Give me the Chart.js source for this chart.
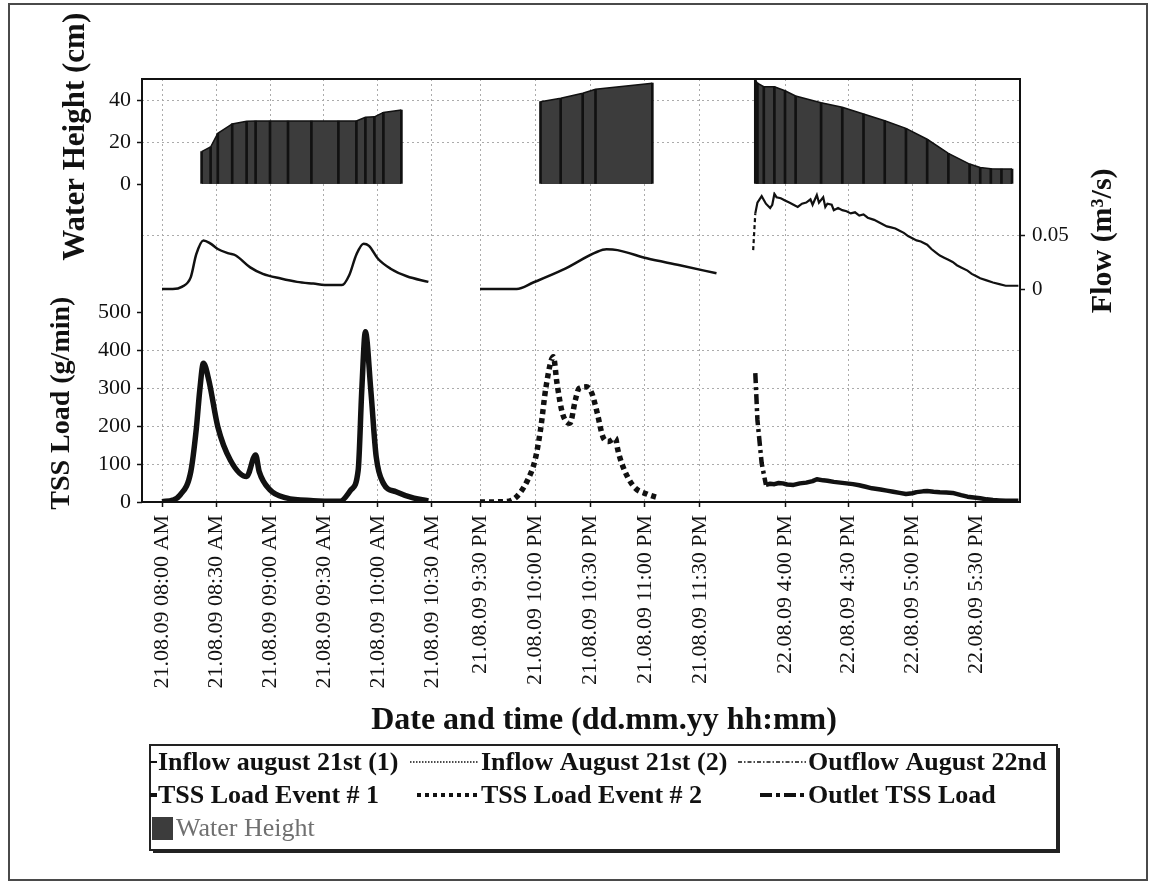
<!DOCTYPE html>
<html lang="en">
<head>
<meta charset="utf-8">
<title>Water height, flow and TSS load — 21/22.08.09</title>
<script src="https://cdn.jsdelivr.net/npm/chart.js@4.4.1/dist/chart.umd.min.js"></script>
<style>
  html, body { margin: 0; padding: 0; background: #fff; }
  canvas { display: block; }
</style>
</head>
<body>
<canvas id="chart" width="1151" height="886"></canvas>
<script>
// ---- Data (clock times hh:mm, 24 h) ----

// Event #1, morning of 21.08.09
var p1FlowTimes = ['08:00','08:06','08:11','08:16','08:19','08:23','08:27','08:31','08:37','08:41','08:49','08:56','09:06','09:15','09:24','09:33','09:40','09:44','09:48','09:52','09:55','10:00','10:07','10:16','10:28'];
var p1Flow      = [0, 0, 0.002, 0.011, 0.032, 0.045, 0.042, 0.037, 0.033, 0.031, 0.020, 0.014, 0.0097, 0.0066, 0.005, 0.0036, 0.0036, 0.0127, 0.032, 0.042, 0.040, 0.028, 0.0188, 0.0118, 0.0066];
var p1TssTimes  = ['08:00','08:06','08:10','08:16','08:19','08:21','08:23','08:26','08:31','08:38','08:47','08:52','08:54','09:00','09:09','09:24','09:39','09:45','09:49','09:51','09:53','09:56','09:59','10:03','10:10','10:20','10:28'];
var p1Tss       = [1, 5, 18, 80, 190, 295, 365, 321, 198, 110, 67, 124, 80, 32, 11, 3.5, 2, 32, 84, 295, 448, 295, 119, 49, 27, 10, 3];
var p1LevelTimes = ['08:22','08:27','08:31','08:39','08:47','08:52','09:00','09:10','09:23','09:38','09:48','09:53','09:58','10:03','10:13'];
var p1Level      = [15.4, 17.6, 24.1, 28.6, 29.9, 30, 30, 30, 30, 30, 30, 31.8, 32, 34.1, 35.2];

// Event #2, evening of 21.08.09
var p2FlowTimes = ['21:30','21:50','21:59','22:15','22:34','22:39','22:45','23:01','23:19','23:39'];
var p2Flow      = [0, 0, 0.006, 0.0176, 0.0345, 0.0367, 0.036, 0.0284, 0.022, 0.0145];
var p2TssTimes  = ['21:30','21:44','21:50','21:56','22:00','22:03','22:06','22:10','22:12','22:15','22:19','22:22','22:24','22:28','22:31','22:34','22:37','22:40','22:44','22:45','22:48','22:54','23:01','23:08'];
var p2Tss       = [0, 1, 14, 58, 110, 190, 303, 382, 312, 233, 207, 268, 299, 303, 286, 233, 172, 159, 168, 141, 93, 40, 21, 10];
var p2LevelTimes = ['22:03','22:14','22:26','22:33','23:04'];
var p2Level      = [39.2, 40.8, 43.2, 45.1, 48];

// Outlet, afternoon of 22.08.09
var p3FlowTimes = ['15:45','15:46','15:47','15:49','15:51','15:53','15:54','15:55','15:56','15:58','16:00','16:02','16:04','16:06','16:08','16:10','16:12','16:13','16:15','16:16','16:18','16:19','16:20','16:22','16:23','16:25','16:27','16:29','16:31','16:33','16:35','16:37','16:39','16:42','16:44','16:46','16:48','16:50','16:52','16:54','16:56','16:58','17:00','17:02','17:04','17:07','17:09','17:11','17:13','17:15','17:17','17:19','17:21','17:23','17:26','17:28','17:30','17:32','17:35','17:38','17:41','17:44','17:47','17:50'];
var p3Flow      = [0.036, 0.070, 0.080, 0.086, 0.079, 0.075, 0.078, 0.088, 0.085, 0.084, 0.082, 0.080, 0.078, 0.076, 0.079, 0.080, 0.083, 0.078, 0.087, 0.080, 0.085, 0.076, 0.079, 0.078, 0.073, 0.075, 0.073, 0.072, 0.070, 0.071, 0.068, 0.069, 0.066, 0.064, 0.062, 0.060, 0.058, 0.057, 0.056, 0.054, 0.052, 0.049, 0.047, 0.045, 0.044, 0.041, 0.037, 0.034, 0.031, 0.029, 0.027, 0.025, 0.022, 0.020, 0.017, 0.014, 0.012, 0.010, 0.008, 0.006, 0.0045, 0.003, 0.003, 0.003];
var p3TssTimes  = ['15:46','15:47','15:49','15:51','15:53','15:55','15:57','15:59','16:01','16:04','16:07','16:10','16:13','16:15','16:18','16:20','16:23','16:26','16:29','16:32','16:35','16:38','16:41','16:45','16:48','16:51','16:54','16:57','17:00','17:02','17:05','17:07','17:10','17:13','17:16','17:19','17:23','17:26','17:29','17:32','17:35','17:38','17:41','17:44','17:50'];
var p3Tss       = [339, 216, 102, 45, 48, 47, 50, 49, 46, 45, 49, 51, 55, 60, 57, 56, 53, 51, 49, 47, 44, 40, 36, 33, 30, 27, 24, 21, 23, 26, 28, 29, 27, 25.5, 25, 24, 18, 14, 12, 10, 7, 5, 4, 3, 3];
var p3LevelTimes = ['15:46','15:47','15:50','15:55','16:00','16:05','16:17','16:27','16:37','16:47','16:57','17:07','17:17','17:27','17:32','17:37','17:42','17:47'];
var p3Level      = [49.5, 48, 46.3, 46.3, 44.4, 41.9, 38.7, 36.5, 33.3, 30.1, 26.5, 21.3, 14.6, 9.5, 7.9, 7.3, 7.1, 7.1];

var seriesNames = ['Inflow august 21st (1)', 'Inflow August 21st (2)', 'Outflow August 22nd',
                   'TSS Load Event # 1', 'TSS Load Event # 2', 'Outlet TSS Load', 'Water Height'];

// Axis ticks and labels
var p1TickTimes  = ['08:00','08:30','09:00','09:30','10:00','10:30'];
var p1TickLabels = ['21.08.09 08:00 AM','21.08.09 08:30 AM','21.08.09 09:00 AM','21.08.09 09:30 AM','21.08.09 10:00 AM','21.08.09 10:30 AM'];
var p2TickTimes  = ['21:30','22:00','22:30','23:00','23:30'];
var p2TickLabels = ['21.08.09 9:30 PM','21.08.09 10:00 PM','21.08.09 10:30 PM','21.08.09 11:00 PM','21.08.09 11:30 PM'];
var p3TickTimes  = ['16:00','16:30','17:00','17:30'];
var p3TickLabels = ['22.08.09 4:00 PM','22.08.09 4:30 PM','22.08.09 5:00 PM','22.08.09 5:30 PM'];
var levelTicks = [0, 20, 40];
var flowTicks  = [0, 0.05];
var tssTicks   = [0, 100, 200, 300, 400, 500];

// ---- Chart ----
(function () {
  'use strict';

  var FONT = "'Liberation Serif', 'Times New Roman', serif";
  var INK = '#111';
  var GRID = '#ababab';

  Chart.defaults.font.family = FONT;
  Chart.defaults.color = INK;

  function toMin(t) {
    var p = t.split(':');
    return +p[0] * 60 + +p[1] + (p[2] ? +p[2] / 60 : 0);
  }
  function pts(times, values) {
    return times.map(function (t, i) { return { x: toMin(t), y: values[i] }; });
  }
  function fixedTicks(list) {
    return function (s) { s.ticks = list.map(function (v) { return { value: v }; }); };
  }
  function fixWidth(w) { return function (s) { s.width = w; }; }
  function fixHeight(h) { return function (s) { s.height = h; }; }

  // broken time axis: three panels side by side (weights = panel widths in px)
  function timeScale(range, tickTimes, tickLabels, panelWidth, order) {
    return {
      type: 'linear', position: 'bottom', stack: 'time', stackWeight: panelWidth, weight: order,
      min: toMin(range[0]), max: toMin(range[1]), offset: false,
      afterBuildTicks: fixedTicks(tickTimes.map(toMin)),
      afterFit: fixHeight(195),
      ticks: {
        autoSkip: false, minRotation: 90, maxRotation: 90, padding: 8, color: INK,
        font: { size: 22 },
        callback: function (v, i) { return tickLabels[i]; }
      },
      grid: { offset: false, color: GRID, tickLength: 5, tickColor: INK, tickWidth: 1.5, tickBorderDash: [] },
      border: { display: false, dash: [2, 3] }
    };
  }

  function flowLine(i, xID, times, vals, extra) {
    return Object.assign({
      type: 'line', label: seriesNames[i], data: pts(times, vals), xAxisID: xID, yAxisID: 'yFlow',
      borderColor: INK, borderWidth: 2.5, pointRadius: 0, fill: false,
      cubicInterpolationMode: 'monotone', order: 1
    }, extra || {});
  }
  function tssLine(i, xID, times, vals, extra) {
    return Object.assign({
      type: 'line', label: seriesNames[i], data: pts(times, vals), xAxisID: xID, yAxisID: 'yTss',
      borderColor: INK, borderWidth: 5.5, pointRadius: 0, fill: false,
      cubicInterpolationMode: 'monotone', borderJoinStyle: 'round', order: 1
    }, extra || {});
  }
  function levelArea(xID, times, vals) {
    return {
      type: 'line', label: seriesNames[6], data: pts(times, vals), xAxisID: xID, yAxisID: 'yLevel',
      borderColor: INK, borderWidth: 1.5, backgroundColor: '#3c3c3c', fill: 'origin',
      pointRadius: 0, tension: 0, order: 3
    };
  }
  function levelDrops(xID, times, vals) {
    return {
      type: 'bar', label: seriesNames[6], data: pts(times, vals), xAxisID: xID, yAxisID: 'yLevel',
      backgroundColor: INK, borderWidth: 0, barThickness: 2, grouped: false, order: 2
    };
  }

  var datasets = [
    flowLine(0, 'x1', p1FlowTimes, p1Flow),
    flowLine(1, 'x2', p2FlowTimes, p2Flow),
    flowLine(2, 'x3', p3FlowTimes, p3Flow, {
      cubicInterpolationMode: 'default', tension: 0, borderWidth: 2.2,
      segment: { borderDash: function (c) { return c.p0DataIndex < 1 ? [4, 3] : undefined; } }
    }),
    tssLine(3, 'x1', p1TssTimes, p1Tss),
    tssLine(4, 'x2', p2TssTimes, p2Tss, { borderDash: [5, 4], borderJoinStyle: 'miter' }),
    tssLine(5, 'x3', p3TssTimes, p3Tss, {
      borderWidth: 4.5, cubicInterpolationMode: 'default', tension: 0,
      segment: { borderDash: function (c) { return c.p0DataIndex < 3 ? [10, 4, 3, 4] : undefined; } }
    }),
    levelArea('x1', p1LevelTimes, p1Level),
    levelArea('x2', p2LevelTimes, p2Level),
    levelArea('x3', p3LevelTimes, p3Level),
    levelDrops('x1', p1LevelTimes, p1Level),
    levelDrops('x2', p2LevelTimes, p2Level),
    levelDrops('x3', p3LevelTimes, p3Level)
  ];

  function gridBetween(lo, hi) {
    return function (c) { return c.tick && c.tick.value > lo && c.tick.value < hi ? GRID : 'transparent'; };
  }

  var scales = {
    x1: timeScale(['07:48:53', '10:32:47'], p1TickTimes, p1TickLabels, 295, 1),
    x2: timeScale(['21:06:32', '23:49:06'], p2TickTimes, p2TickLabels, 298, 2),
    x3: timeScale(['15:36:26', '17:50:45'], p3TickTimes, p3TickLabels, 285, 3),
    xPad: { type: 'linear', position: 'bottom', display: false, stack: 'title', stackWeight: 46, weight: 4,
            afterFit: fixHeight(48) },
    xTitle: {
      type: 'linear', position: 'bottom', stack: 'title', stackWeight: 832, weight: 5,
      ticks: { display: false }, grid: { display: false, drawTicks: false }, border: { display: false },
      afterFit: fixHeight(48),
      title: { display: true, text: 'Date and time (dd.mm.yy hh:mm)', color: INK,
               font: { size: 32, weight: 'bold' }, padding: { top: 0, bottom: 5 } }
    },

    // left: water height on top, TSS load at the bottom
    yLevel: {
      type: 'linear', position: 'left', stack: 'left', stackWeight: 115.5, weight: 3,
      min: -5, max: 50,
      afterBuildTicks: fixedTicks(levelTicks),
      afterFit: fixWidth(142),
      ticks: { padding: 6, color: INK, font: { size: 22 } },
      grid: { color: gridBetween(0, 50), tickLength: 5, tickColor: INK, tickWidth: 1.5, tickBorderDash: [] },
      border: { display: false, dash: [2, 3] },
      title: { display: true, text: 'Water Height (cm)', color: INK,
               font: { size: 31, weight: 'bold' }, padding: { top: 57, bottom: 0 } }
    },
    yGap: { type: 'linear', position: 'left', display: false, stack: 'left', stackWeight: 109.9, weight: 2,
            afterFit: fixWidth(142) },
    yTss: {
      type: 'linear', position: 'left', stack: 'left', stackWeight: 197.6, weight: 1,
      min: 0, max: 520,
      afterBuildTicks: fixedTicks(tssTicks),
      afterFit: fixWidth(142),
      ticks: { padding: 6, color: INK, font: { size: 22 } },
      grid: { color: gridBetween(0, 500), tickLength: 5, tickColor: INK, tickWidth: 1.5, tickBorderDash: [] },
      border: { display: false, dash: [2, 3] },
      title: { display: true, text: 'TSS Load (g/min)', color: INK,
               font: { size: 28, weight: 'bold' }, padding: { top: 45, bottom: 0 } }
    },

    // right: flow between the two
    yFlowTop: { type: 'linear', position: 'right', display: false, stack: 'right', stackWeight: 112.8, weight: 1,
                afterFit: fixWidth(131) },
    yFlow: {
      type: 'linear', position: 'right', stack: 'right', stackWeight: 108, weight: 2,
      min: -0.01, max: 0.09,
      afterBuildTicks: fixedTicks(flowTicks),
      afterFit: fixWidth(131),
      ticks: { padding: 7, color: INK, font: { size: 21 } },
      grid: { color: gridBetween(0, 1), tickLength: 5, tickColor: INK, tickWidth: 1.5, tickBorderDash: [] },
      border: { display: false, dash: [2, 3] }
    },
    yFlowBottom: { type: 'linear', position: 'right', display: false, stack: 'right', stackWeight: 202.2, weight: 3,
                   afterFit: fixWidth(131) }
  };

  // plot frame, outer figure frame, right-hand title (reads bottom to top) and the 3-column legend
  var LEGEND = [
    { ds: 0, row: 0, col: 0, from: 150, to: 157, width: 2,   dash: [] },
    { ds: 1, row: 0, col: 1, from: 410, to: 478, width: 1.5, dash: [1.5, 1.5] },
    { ds: 2, row: 0, col: 2, from: 738, to: 806, width: 1.5, dash: [4, 2, 1.5, 2] },
    { ds: 3, row: 1, col: 0, from: 150, to: 157, width: 4,   dash: [] },
    { ds: 4, row: 1, col: 1, from: 417, to: 477, width: 4,   dash: [4, 4] },
    { ds: 5, row: 1, col: 2, from: 760, to: 806, width: 4,   dash: [12, 4, 4, 4] },
    { ds: 6, row: 2, col: 0, box: true }
  ];
  var LEGEND_COL_X = [158, 481, 808];
  var LEGEND_ROW_Y = [762, 795, 828];

  var decor = {
    id: 'decor',
    beforeDraw: function (chart) {
      var ctx = chart.ctx;
      ctx.save();
      ctx.strokeStyle = '#4a4a4a';
      ctx.lineWidth = 2;
      ctx.strokeRect(9, 4, 1138, 876);
      ctx.restore();
    },
    afterDatasetsDraw: function (chart) {
      var a = chart.chartArea, ctx = chart.ctx;
      ctx.save();
      ctx.strokeStyle = INK;
      ctx.lineWidth = 2;
      ctx.strokeRect(a.left, a.top, a.right - a.left, a.bottom - a.top);
      ctx.restore();
    },
    afterDraw: function (chart) {
      var ctx = chart.ctx, s = chart.scales.yFlow;
      ctx.save();
      ctx.translate(s.right - 48, (s.top + s.bottom) / 2 - 5);
      ctx.rotate(-Math.PI / 2);
      ctx.font = 'bold 30px ' + FONT;
      ctx.fillStyle = INK;
      ctx.textAlign = 'center';
      ctx.textBaseline = 'middle';
      ctx.fillText('Flow (m\u00b3/s)', 0, 0);
      ctx.restore();

      // legend box with drop shadow
      ctx.save();
      ctx.fillStyle = '#222';
      ctx.fillRect(153, 748, 907, 105);
      ctx.fillStyle = '#fff';
      ctx.fillRect(150, 745, 907, 105);
      ctx.strokeStyle = '#222';
      ctx.lineWidth = 2;
      ctx.strokeRect(150, 745, 907, 105);
      ctx.textBaseline = 'middle';
      LEGEND.forEach(function (it) {
        var y = LEGEND_ROW_Y[it.row];
        var label = chart.data.datasets[it.ds].label;
        if (it.box) {
          ctx.fillStyle = '#3c3c3c';
          ctx.fillRect(152, y - 11, 21, 23);
          ctx.font = '26px ' + FONT;
          ctx.fillStyle = '#707070';
          ctx.fillText(label, 176, y + 1);
          return;
        }
        ctx.beginPath();
        ctx.setLineDash(it.dash);
        ctx.lineWidth = it.width;
        ctx.strokeStyle = INK;
        ctx.moveTo(it.from, y);
        ctx.lineTo(it.to, y);
        ctx.stroke();
        ctx.setLineDash([]);
        ctx.font = 'bold 26px ' + FONT;
        ctx.fillStyle = INK;
        ctx.fillText(label, LEGEND_COL_X[it.col], y + 1);
      });
      ctx.restore();
    }
  };

  new Chart(document.getElementById('chart'), {
    type: 'line',
    data: { datasets: datasets },
    options: {
      responsive: false,
      animation: false,
      events: [],
      layout: { padding: { top: 79, left: 0, right: 0, bottom: 141 } },
      plugins: { legend: { display: false }, tooltip: { enabled: false } },
      scales: scales
    },
    plugins: [decor]
  });
})();
</script>
</body>
</html>
